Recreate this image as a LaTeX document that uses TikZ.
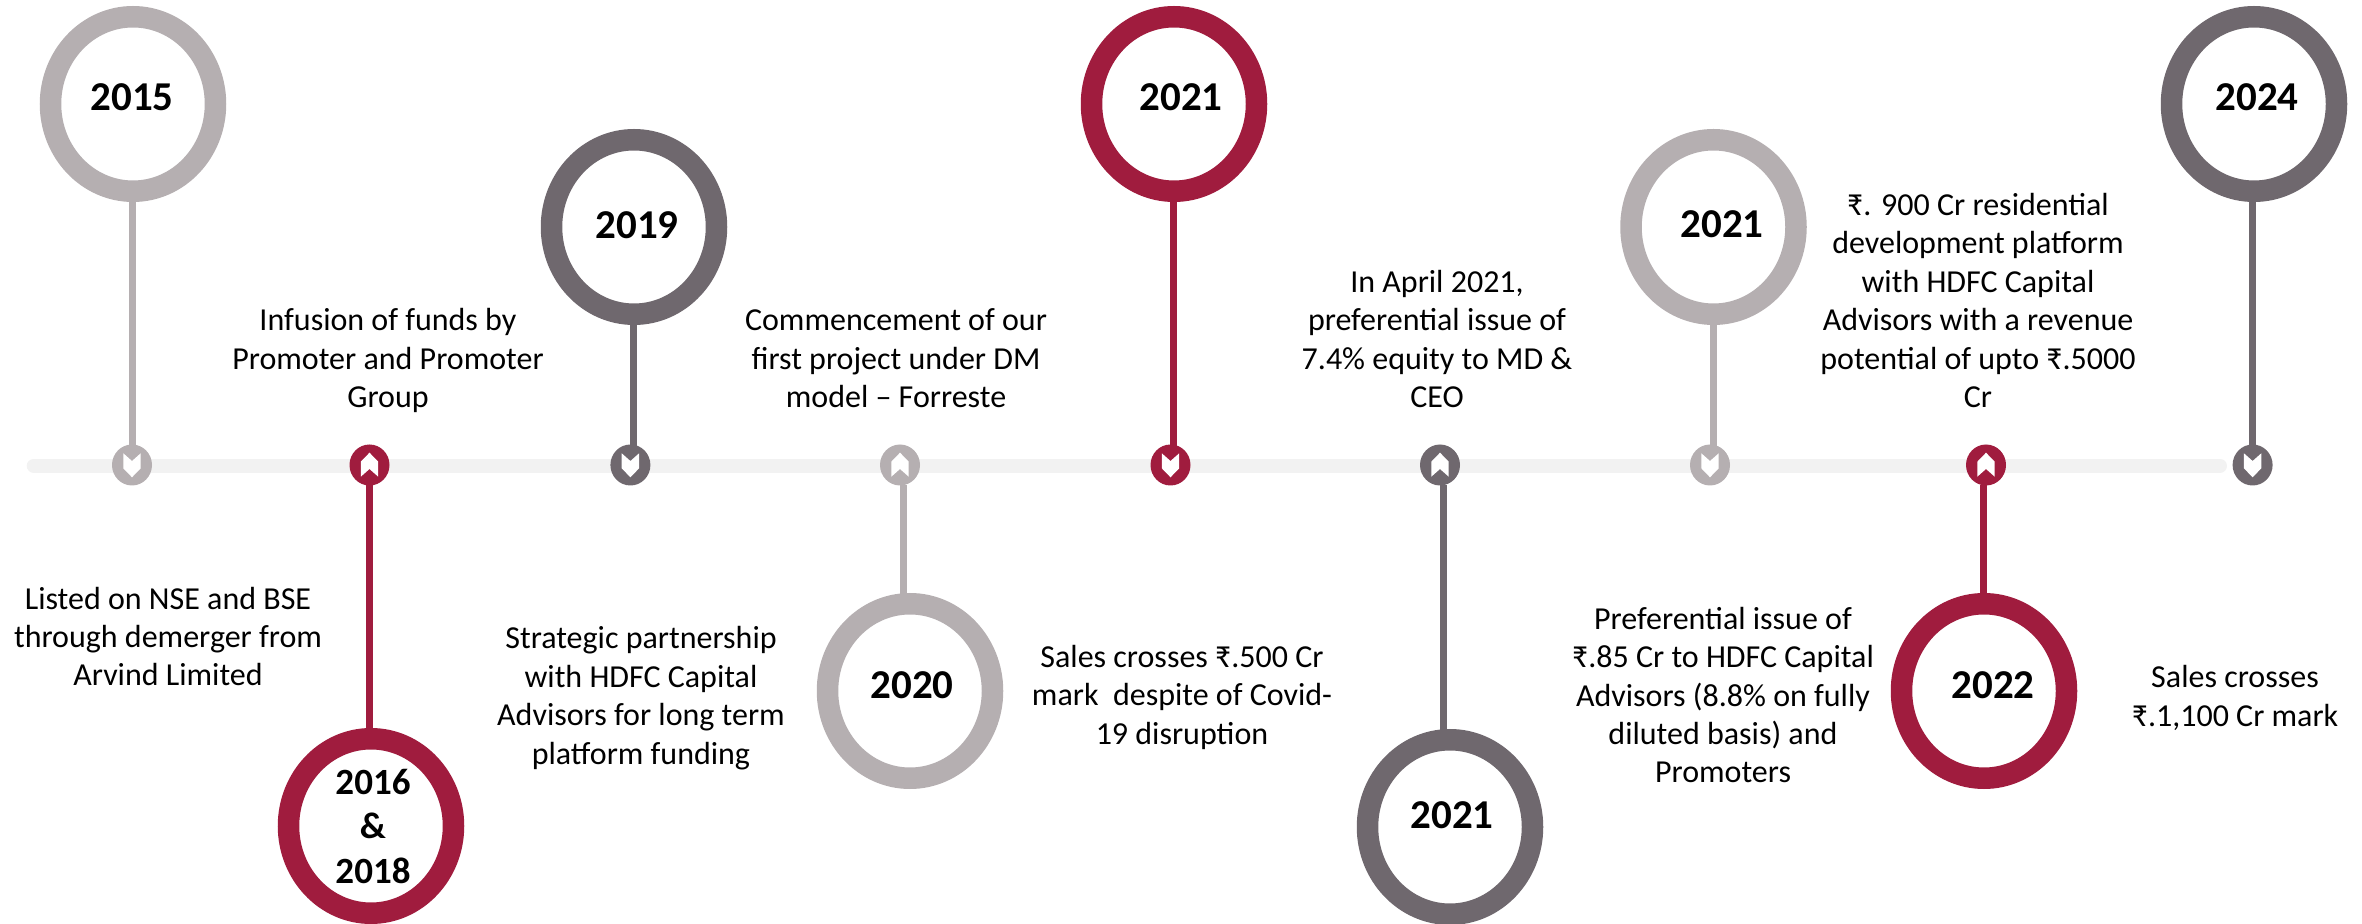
\documentclass[tikz,border=0pt]{standalone}
\usepackage{fontspec}
\setmainfont{Carlito}
\definecolor{lightc}{HTML}{B5AFB1}
\definecolor{darkc}{HTML}{6F686E}
\definecolor{redc}{HTML}{A01C3E}
\definecolor{barc}{HTML}{F2F2F2}
\tikzset{
  ring/.style={draw=#1,ellipse,inner sep=0pt,outer sep=0pt,line width=10.75pt,minimum width=82.5pt,minimum height=87.25pt,fill=white},
  marker/.style={ellipse,fill=#1,inner sep=0pt,outer sep=0pt,minimum width=20pt,minimum height=20.5pt},
  stem/.style={draw=#1,line width=3.5pt},
  yearlabel/.style={font=\fontsize{20.5}{24}\selectfont\bfseries,inner sep=0pt,anchor=base,align=center,yshift=-0.5pt},
  yearsmall/.style={font=\fontsize{18.5}{22}\selectfont\bfseries,inner sep=0pt,anchor=base,align=center,yshift=-0.5pt},
  note/.style={font=\fontsize{16}{19.25}\selectfont,inner sep=0pt,anchor=base,align=center,yshift=-1pt},
  pics/chevdown/.style={code={\fill[white] (-8.7,-11.7)--(0,-4)--(8.7,-11.7)--(8.7,3.3)--(0,12.3)--(-8.7,3.3)--cycle;}},
  pics/chevup/.style={code={\fill[white] (-8.7,11.7)--(0,4)--(8.7,11.7)--(8.7,-3.3)--(0,-12.3)--(-8.7,-3.3)--cycle;}},
}
\usetikzlibrary{shapes.geometric}
\begin{document}
\begin{tikzpicture}[x=0.5pt,y=-0.5pt]
\useasboundingbox (0,0) rectangle (2362,924);
% bar
\coordinate (barL) at (33.7,465.7);
\coordinate (barR) at (2220,465.7);
\draw[barc,line width=7pt,line cap=round] (barL) -- (barR);
% markers
\node[marker=lightc] (m1) at (132,465) {};
\node[marker=redc]   (m2) at (369.5,465) {};
\node[marker=darkc]  (m3) at (630.4,465) {};
\node[marker=lightc] (m4) at (900,465) {};
\node[marker=redc]   (m5) at (1170.5,465) {};
\node[marker=darkc]  (m6) at (1440,465) {};
\node[marker=lightc] (m7) at (1710,465) {};
\node[marker=redc]   (m8) at (1986,465) {};
\node[marker=darkc]  (m9) at (2252.6,465) {};
\pic at (m1) {chevdown};
\pic at (m2) {chevup};
\pic at (m3) {chevdown};
\pic at (m4) {chevup};
\pic at (m5) {chevdown};
\pic at (m6) {chevup};
\pic at (m7) {chevdown};
\pic at (m8) {chevup};
\pic at (m9) {chevdown};
% rings
\node[ring=lightc] (r1) at (133,104) {};
\node[ring=redc]   (r2) at (371,826) {};
\node[ring=darkc]  (r3) at (634,227) {};
\node[ring=lightc] (r4) at (910,691) {};
\node[ring=redc]   (r5) at (1174,104) {};
\node[ring=darkc]  (r6) at (1450,827) {};
\node[ring=lightc] (r7) at (1713.5,227) {};
\node[ring=redc]   (r8) at (1984,691) {};
\node[ring=darkc]  (r9) at (2254,104) {};
% stem guides
\coordinate (s1) at (132.3,300);
\coordinate (s2) at (369.5,600);
\coordinate (s3) at (633,400);
\coordinate (s4) at (903,530);
\coordinate (s5) at (1173,300);
\coordinate (s6) at (1443,600);
\coordinate (s7) at (1713,400);
\coordinate (s8) at (1983.4,530);
\coordinate (s9) at (2252.6,300);
\draw[stem=lightc] (r1.south -| s1) -- ([yshift=-1pt]m1.north -| s1);
\draw[stem=redc]   (m2.south -| s2) -- (r2.north -| s2);
\draw[stem=darkc]  (r3.south -| s3) -- ([yshift=-1pt]m3.north -| s3);
\draw[stem=lightc] (m4.south -| s4) -- (r4.north -| s4);
\draw[stem=redc]   (r5.south -| s5) -- ([yshift=-1pt]m5.north -| s5);
\draw[stem=darkc]  (m6.south -| s6) -- (r6.north -| s6);
\draw[stem=lightc] (r7.south -| s7) -- ([yshift=-1pt]m7.north -| s7);
\draw[stem=redc]   (m8.south -| s8) -- (r8.north -| s8);
\draw[stem=darkc]  (r9.south -| s9) -- ([yshift=-1pt]m9.north -| s9);
% years
\node[yearlabel] (y1) at (132,110) {2015};
\node[yearsmall] (y2a) at (373,793) {2016};
\node[yearsmall] (y2b) at (373,837) {\&};
\node[yearsmall] (y2c) at (373,882) {2018};
\node[yearlabel] (y3) at (637,238) {2019};
\node[yearlabel] (y4) at (912,697) {2020};
\node[yearlabel] (y5) at (1181,110) {2021};
\node[yearlabel] (y6) at (1452,827) {2021};
\node[yearlabel] (y7) at (1722,237) {2021};
\node[yearlabel] (y8) at (1993,697) {2022};
\node[yearlabel] (y9) at (2257,110) {2024};
% notes (anchor is the last line's baseline)
\node[note] (n1) at (168,684) {Listed on NSE and BSE\\through demerger from\\Arvind Limited};
\node[note] (n2) at (388,406) {Infusion of funds by\\Promoter and Promoter\\Group};
\node[note] (n3) at (641,762) {Strategic partnership\\with HDFC Capital\\Advisors for long term\\platform funding};
\node[note] (n4) at (896,406) {Commencement of our\\first project under DM\\model – Forreste};
\node[note] (n5) at (1182,742) {Sales crosses ₹.500 Cr\\mark\ \ despite of Covid-\\19 disruption};
\node[note] (n6) at (1437,406) {In April 2021,\\preferential issue of\\7.4\% equity to MD \&\\CEO};
\node[note] (n7) at (1723,781) {Preferential issue of\\₹.85 Cr to HDFC Capital\\Advisors (8.8\% on fully\\diluted basis) and\\Promoters};
\node[note] (n8) at (1978,406) {₹. 900 Cr residential\\development platform\\with HDFC Capital\\Advisors with a revenue\\potential of upto ₹.5000\\Cr};
\node[note] (n9) at (2235,724) {Sales crosses\\₹.1,100 Cr mark};
\end{tikzpicture}
\end{document}
